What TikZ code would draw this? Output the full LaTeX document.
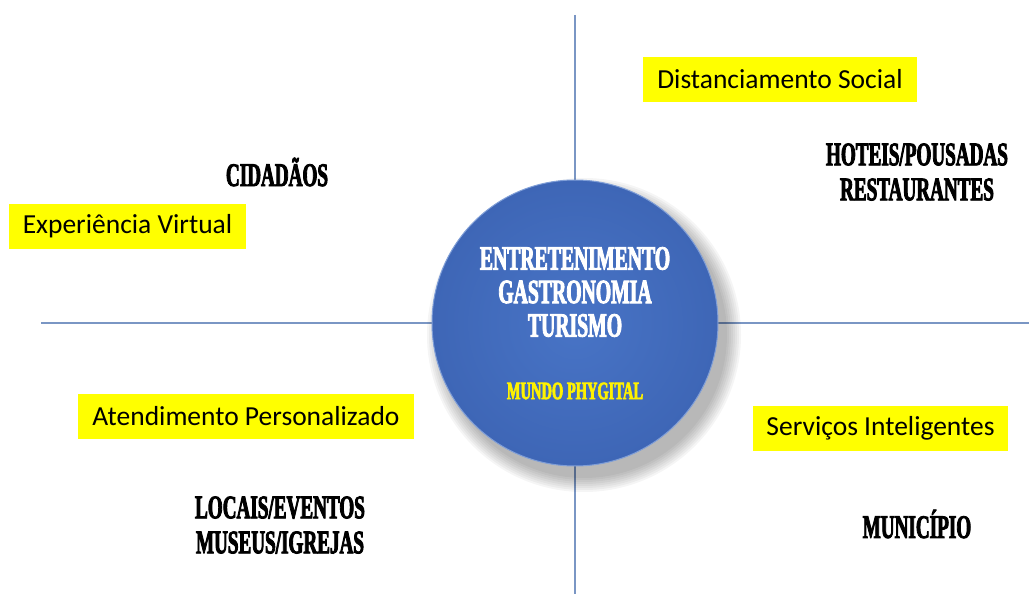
\documentclass[tikz,border=0pt]{standalone}
\usepackage{fontspec}
\setmainfont{Carlito}
\newfontfamily\headfont[FakeStretch=0.58, FakeBold=2.5]{Liberation Serif}
\usetikzlibrary{calc}
\definecolor{axisblue}{RGB}{122,150,196}
\definecolor{hubblue}{RGB}{72,116,198}
\definecolor{hubedge}{RGB}{62,102,182}
\definecolor{tagyellow}{RGB}{255,255,0}
\tikzset{
	tag/.style={fill=tagyellow, inner sep=0pt, minimum height=45pt, font=\fontsize{27.5}{30}\selectfont},
	head/.style={align=center, font=\headfont\bfseries\fontsize{33}{35}\selectfont},
	hubtext/.style={align=center, text=white, font=\headfont\bfseries\fontsize{34}{33.5}\selectfont}
}

\begin{document}
\begin{tikzpicture}[x=1pt, y=-1pt]
		%%%%% START %%%%%
		\useasboundingbox (0, 0) rectangle (1029, 594);
		
		% axes
		\coordinate (west) at (41, 323);
		\coordinate (east) at (1029, 323);
		\coordinate (north) at (575, 15);
		\coordinate (south) at (575, 594);
		\draw[line width=1.3pt, color=axisblue] (west) -- (east);
		\draw[line width=1.3pt, color=axisblue] (north) -- (south);
		
		% soft shadow of the hub
		\foreach \r in {0,2,...,14}
			\fill[black, opacity=0.04] (584, 335) circle (143+\r);
		
		\node[circle, minimum size=286pt, inner sep=0pt, inner color=hubblue, outer color=hubedge, draw=hubblue!70!white, line width=1pt] (hub) at (575, 323) {};
		
		\node[hubtext] (themes) at (575, 292) {ENTRETENIMENTO\\GASTRONOMIA\\TURISMO};
		\node[hubtext, text=yellow, font=\headfont\bfseries\fontsize{25}{26}\selectfont] (phygital) at (575, 391) {MUNDO PHYGITAL};
		
		% quadrant titles
		\node[head] (cidadaos) at (277, 172) {CIDADÃOS};
		\node[head] (hoteis) at (917, 172) {HOTEIS/POUSADAS\\RESTAURANTES};
		\node[head] (locais) at (280, 525) {LOCAIS/EVENTOS\\MUSEUS/IGREJAS};
		\node[head] (municipio) at (917, 524) {MUNICÍPIO};
		
		% yellow tags
		\node[tag, minimum width=237pt] (virtual) at (127.5, 226.5) {Experiência Virtual};
		\node[tag, minimum width=274pt] (social) at (780, 79.5) {Distanciamento Social};
		\node[tag, minimum width=336pt] (personal) at (246, 416.5) {Atendimento Personalizado};
		\node[tag, minimum width=255pt] (smart) at (880.5, 428.5) {Serviços Inteligentes};
		
		%%%%% END %%%%%
	\end{tikzpicture}
\end{document}
